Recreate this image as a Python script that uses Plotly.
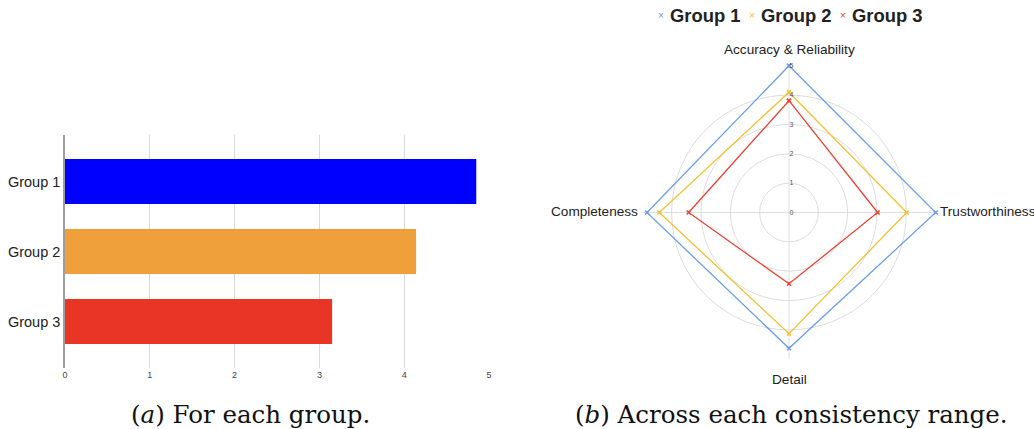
import plotly.graph_objects as go

groups = ["Group 1", "Group 2", "Group 3"]
overall_scores = [4.85, 4.14, 3.15]
bar_colors = ["#0000ff", "#f0a03a", "#e93526"]

criteria = ["Accuracy & Reliability", "Trustworthiness", "Detail", "Completeness"]
radar_scores = {
    "Group 1": [5.0, 5.0, 4.63, 4.84],
    "Group 2": [4.1, 4.01, 4.13, 4.42],
    "Group 3": [3.81, 3.02, 2.43, 3.42],
}
radar_colors = ["#6d9eeb", "#f1c232", "#ea4335"]
x_ticks = [0, 1, 2, 3, 4, 5]
r_ticks = [0, 1, 2, 3, 4, 5]

W, H = 1034, 429
FONT = "Liberation Sans, Arial, sans-serif"
SERIF = "DejaVu Serif, Liberation Serif, serif"


def px(x):
    return x / W


def py(y):
    return (H - y) / H


fig = go.Figure()

fig.add_trace(go.Bar(
    x=overall_scores, y=groups, orientation="h",
    marker=dict(color=bar_colors, line=dict(width=0)),
    showlegend=False, xaxis="x", yaxis="y",
))

for g, c in zip(groups, radar_colors):
    vals = radar_scores[g]
    fig.add_trace(go.Scatterpolar(
        r=vals + [vals[0]], theta=criteria + [criteria[0]],
        mode="lines+markers", name=g,
        line=dict(color=c, width=1.3),
        marker=dict(symbol="x-thin", size=4, color=c, line=dict(color=c, width=1.5)),
        showlegend=False, subplot="polar",
    ))

cx, cy, R = 789, 212.5, 146.7

annotations = [
    dict(text="(<i>a</i>) For each group.", x=px(250), y=py(414),
         xref="paper", yref="paper", showarrow=False, xanchor="center", yanchor="middle",
         font=dict(family=SERIF, size=24.5, color="#111111")),
    dict(text="(<i>b</i>) Across each consistency range.", x=px(791), y=py(414),
         xref="paper", yref="paper", showarrow=False, xanchor="center", yanchor="middle",
         font=dict(family=SERIF, size=24.5, color="#111111")),
]

# legend row (marker glyph + bold name) above the radar
legend_x = [661, 752, 843]
for g, c, lx in zip(groups, radar_colors, legend_x):
    annotations.append(dict(
        text="×", x=px(lx), y=py(15), xref="paper", yref="paper", showarrow=False,
        xanchor="center", yanchor="middle", font=dict(family=FONT, size=10, color=c),
    ))
    annotations.append(dict(
        text="<b>" + g + "</b>", x=px(lx + 7), y=py(15), xref="paper", yref="paper",
        showarrow=False, xanchor="left", yanchor="middle",
        font=dict(family=FONT, size=18.4, color="#222222"),
    ))

# angular category labels placed around the radar
label_pos = {
    "Accuracy & Reliability": (cx, 49, "center"),
    "Trustworthiness": (938, cy - 1, "left"),
    "Detail": (cx, 379, "center"),
    "Completeness": (640, cy - 1, "right"),
}
for name in criteria:
    lx, ly, anc = label_pos[name]
    annotations.append(dict(
        text=name, x=px(lx), y=py(ly), xref="paper", yref="paper", showarrow=False,
        xanchor=anc, yanchor="middle", font=dict(family=FONT, size=13.6, color="#222222"),
    ))

fig.update_layout(
    width=W, height=H,
    margin=dict(l=0, r=0, t=0, b=0, autoexpand=False),
    paper_bgcolor="white", plot_bgcolor="white",
    font=dict(family=FONT, color="#222222"),
    bargap=0.36,
    showlegend=False,
    xaxis=dict(
        domain=[px(65), px(489)], range=[0, 5],
        tickvals=x_ticks, ticks="", showgrid=True, gridcolor="#d9d9d9", gridwidth=1,
        zeroline=False, showline=False,
        tickfont=dict(size=9, color="#444444"),
    ),
    yaxis=dict(
        domain=[py(368), py(135)],
        range=[2.664, -0.664], categoryorder="array", categoryarray=groups,
        showline=True, linecolor="#9e9e9e", linewidth=1.5,
        ticks="", showgrid=False, tickfont=dict(size=14.5, color="#222222"),
        ticklabelstandoff=0,
    ),
    polar=dict(
        domain=dict(x=[px(cx - R), px(cx + R)], y=[py(cy + R), py(cy - R)]),
        bgcolor="white",
        radialaxis=dict(
            range=[0, 5], tickvals=r_ticks, angle=90, tickangle=90,
            showline=False, gridcolor="#dddddd", ticks="",
            tickfont=dict(size=7, color="#555555"),
        ),
        angularaxis=dict(
            direction="clockwise", rotation=90,
            gridcolor="#e0e0e0", showline=False, ticks="", showticklabels=False,
        ),
    ),
    annotations=annotations,
)

fig.write_html("out.html", config={"displayModeBar": False},
               post_script="document.body.style.margin='0';")
